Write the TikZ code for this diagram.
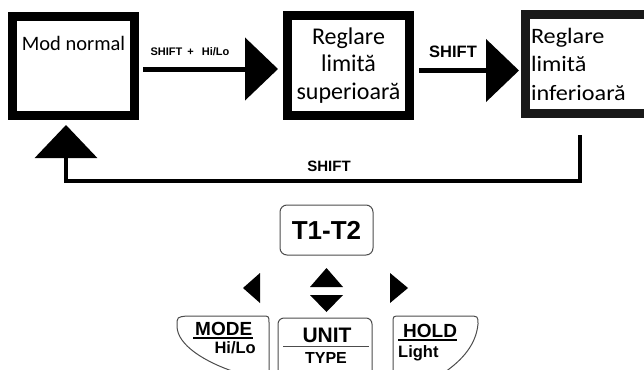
\documentclass[tikz,border=0pt]{standalone}
\usepackage{fontspec}
\setmainfont{Carlito}
\setsansfont{Liberation Sans}
\usetikzlibrary{arrows.meta}
\tikzstyle{box} = [rectangle, draw=black, line width=9pt, fill=white, minimum width=122pt, minimum height=99pt, inner sep=0pt, text centered]
\tikzstyle{openbox} = [rectangle, minimum height=99pt, inner sep=0pt, outer sep=0pt]
\tikzstyle{lbl} = [rectangle, inner sep=0pt, font=\sffamily\bfseries]
\tikzstyle{arrow} = [-{Triangle[length=33pt,width=62pt]}, line width=5pt]
\tikzstyle{backarrow} = [-{Triangle[length=33pt,width=62pt]}, line width=3.5pt]
\tikzstyle{keybox} = [rectangle, draw=black!70, line width=1pt, rounded corners=7pt, minimum width=93pt, minimum height=50pt]
\tikzstyle{keyline} = [draw=black!70, line width=1pt]
\tikzstyle{uline} = [line width=1.3pt]

\begin{document}
\begin{tikzpicture}[x=1pt, y=-1pt]
    \useasboundingbox (0,0) rectangle (644,369);
    % states
    \node (mode) [box, text height=33.5pt, text depth=65.5pt, font=\fontsize{20.5}{24}\selectfont] at (73.5,66) {Mod normal};
    \node (sup) [box, align=center, font=\fontsize{24}{27.5}\selectfont] at (348.5,65.5) {Reglare\\limită\\superioară};
    \node (inf) [openbox, text width=112pt, align=left, font=\addfontfeatures{FakeStretch=1.1}\fontsize{22}{28.5}\selectfont] at (587,64) {Reglare\\limită\\inferioară};
    \draw [line width=9pt, black!90] ([xshift=1pt]inf.north east) -- ([xshift=-5.5pt]inf.north west) -- ([xshift=-5.5pt]inf.south west) -- ([xshift=1pt]inf.south east);
    % transitions
    \draw [arrow, shorten <=4pt, shorten >=5pt] ([yshift=-3pt]mode.east) -- ([yshift=-3.5pt]sup.west);
    \draw [arrow, shorten <=5pt, shorten >=12pt] ([yshift=-5pt]sup.east) -- ([yshift=-6.5pt]inf.west);
    \draw [backarrow, shorten <=21.5pt, shorten >=5pt] ([xshift=-7pt]inf.south) -- ++(0,67.5) -| ([xshift=-7.5pt]mode.south);
    \node (shlo) [lbl, font=\sffamily\bfseries\fontsize{11}{11}\selectfont] at (190,52) {SHIFT\hspace{5pt}+\hspace{8pt}Hi/Lo};
    \node (sh) [lbl, font=\sffamily\bfseries\fontsize{16.5}{16.5}\selectfont] at (453,52) {SHIFT};
    \node (shback) [lbl, font=\sffamily\bfseries\fontsize{15}{15}\selectfont] at (329,166.5) {SHIFT};
    % keypad
    \node (t1t2) [keybox, font=\sffamily\bfseries\fontsize{26}{26}\selectfont] at (326.5,230) {T1-T2};
    \fill (326.5,268) -- (343,287) -- (310,287) -- cycle;
    \fill (326.5,312) -- (343,295) -- (310,295) -- cycle;
    \fill (243,288) -- (260,273) -- (260,303) -- cycle;
    \fill (408,288) -- (390,273) -- (390,303) -- cycle;
    \draw [keyline] (235,372) .. controls (205,362) and (177,345) .. (177,326) .. controls (177,317) .. (187,316) -- (262,316) .. controls (269,316) .. (269,323) -- (269,372);
    \draw [keyline, rounded corners=6pt] (278,380) -- (278,318) -- (372,318) -- (372,380);
    \draw [keyline] (283,346) -- (369,346);
    \draw [keyline] (393,372) -- (393,323) .. controls (393,316) .. (400,316) -- (468,316) .. controls (478,316) .. (478,324) .. controls (476,345) and (462,360) .. (445,372);
    \node (modelab) [lbl, anchor=base west, font=\sffamily\bfseries\fontsize{19}{19}\selectfont] at (195,335) {MODE};
    \node (hilo) [lbl, anchor=base east, font=\sffamily\bfseries\fontsize{16.5}{16.5}\selectfont] at (256,353) {Hi/Lo};
    \draw [uline] ([xshift=-2pt,yshift=-3pt]modelab.base west) -- ([xshift=1pt,yshift=-3pt]modelab.base east);
    \node (unit) [lbl, anchor=base, font=\sffamily\bfseries\fontsize{21}{21}\selectfont] at (327,342) {UNIT};
    \node (type) [lbl, anchor=base, font=\sffamily\bfseries\fontsize{16}{16}\selectfont] at (326,363) {TYPE};
    \node (holdlab) [lbl, anchor=base west, font=\sffamily\bfseries\fontsize{19}{19}\selectfont] at (403,337) {HOLD};
    \node (light) [lbl, anchor=base west, font=\sffamily\bfseries\fontsize{16.5}{16.5}\selectfont] at (398,357) {Light};
    \draw [uline] ([xshift=-5pt,yshift=-3pt]holdlab.base west) -- ([yshift=-3pt]holdlab.base east);
\end{tikzpicture}
\end{document}
